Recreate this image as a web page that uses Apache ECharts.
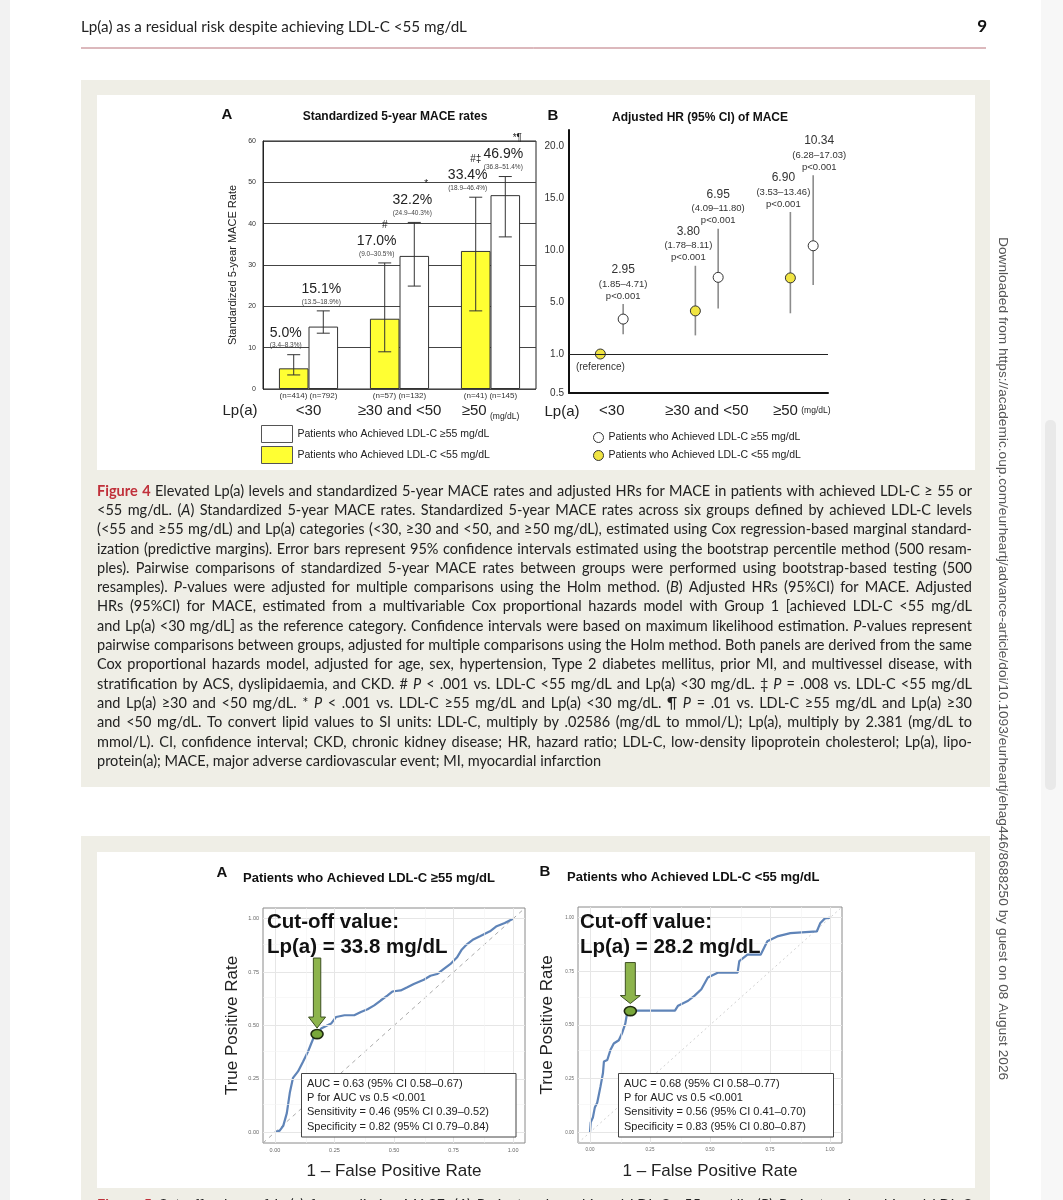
<!DOCTYPE html>
<html><head><meta charset="utf-8">
<script src="https://cdn.jsdelivr.net/npm/echarts@6/dist/echarts.min.js"></script>
<style>html,body{margin:0;padding:0;background:#fff}#c{width:1063px;height:1200px}</style>
</head><body><div id="c"></div>
<script>
// ---------------- Figure 4A data ----------------
const lpCategories = ['<30', '≥30 and <50', '≥50'];
const nLow = [414, 57, 41];
const nHigh = [792, 132, 145];
const maceLow = [5.0, 17.0, 33.4];
const maceLowCI = [[3.4, 8.3], [9.0, 30.5], [18.9, 46.4]];
const maceHigh = [15.1, 32.2, 46.9];
const maceHighCI = [[13.5, 18.9], [24.9, 40.3], [36.8, 51.4]];
const maceLowMarks = ['', '#', '#‡'];
const maceHighMarks = ['', '*', '*¶'];
// ---------------- Figure 4B data ----------------
const hrLow = [1.0, 3.80, 6.90];
const hrLowCI = [null, [1.78, 8.11], [3.53, 13.46]];
const hrHigh = [2.95, 6.95, 10.34];
const hrHighCI = [[1.85, 4.71], [4.09, 11.80], [6.28, 17.03]];
const hrTicks = [0.5, 1.0, 5.0, 10.0, 15.0, 20.0];
// ---------------- Figure 5 data ----------------
const rocA = [[0,0],[0.02,0.008],[0.035,0.03],[0.05,0.09],[0.0625,0.185],[0.076,0.255],[0.097,0.285],[0.118,0.33],[0.139,0.378],[0.153,0.417],[0.167,0.455],[0.18,0.46],[0.194,0.486],[0.215,0.498],[0.236,0.509],[0.257,0.54],[0.292,0.548],[0.333,0.548],[0.361,0.563],[0.389,0.576],[0.417,0.594],[0.444,0.617],[0.472,0.64],[0.493,0.659],[0.528,0.664],[0.556,0.679],[0.583,0.694],[0.625,0.714],[0.653,0.733],[0.681,0.741],[0.708,0.764],[0.736,0.787],[0.764,0.818],[0.785,0.856],[0.806,0.88],[0.833,0.903],[0.861,0.918],[0.903,0.941],[0.931,0.965],[0.965,0.98],[1,1]];
const rocB = [[0,0],[0.003,0.046],[0.012,0.069],[0.02,0.115],[0.03,0.138],[0.037,0.176],[0.044,0.215],[0.054,0.276],[0.058,0.33],[0.072,0.337],[0.085,0.383],[0.099,0.414],[0.12,0.429],[0.133,0.46],[0.147,0.506],[0.154,0.552],[0.168,0.567],[0.354,0.567],[0.367,0.59],[0.409,0.613],[0.436,0.637],[0.464,0.667],[0.491,0.721],[0.532,0.744],[0.615,0.744],[0.622,0.798],[0.656,0.828],[0.711,0.828],[0.725,0.859],[0.739,0.89],[0.78,0.913],[0.835,0.928],[0.945,0.936],[0.959,0.974],[0.979,0.997],[1,1]];
const cutA = [0.177, 0.46];
const cutB = [0.168, 0.565];
const cutLabelA = ['Cut-off value:', 'Lp(a) = 33.8 mg/dL'];
const cutLabelB = ['Cut-off value:', 'Lp(a) = 28.2 mg/dL'];
const statsA = ['AUC = 0.63 (95% CI 0.58–0.67)', 'P for AUC vs 0.5 <0.001', 'Sensitivity = 0.46 (95% CI 0.39–0.52)', 'Specificity = 0.82 (95% CI 0.79–0.84)'];
const statsB = ['AUC = 0.68 (95% CI 0.58–0.77)', 'P for AUC vs 0.5 <0.001', 'Sensitivity = 0.56 (95% CI 0.41–0.70)', 'Specificity = 0.83 (95% CI 0.80–0.87)'];
const rocTicks = [0, 0.25, 0.5, 0.75, 1];
const rocMinor = [0.125, 0.375, 0.625, 0.875];

const nameHigh = 'Patients who Achieved LDL-C ≥55 mg/dL';
const nameLow = 'Patients who Achieved LDL-C <55 mg/dL';

const captionLines = [
 '§Figure §4 Elevated Lp(a) levels and standardized 5-year MACE rates and adjusted HRs for MACE in patients with achieved LDL-C ≥ 55 or',
 '<55 mg/dL. (_A_) Standardized 5-year MACE rates. Standardized 5-year MACE rates across six groups defined by achieved LDL-C levels',
 '(<55 and ≥55 mg/dL) and Lp(a) categories (<30, ≥30 and <50, and ≥50 mg/dL), estimated using Cox regression-based marginal standard-',
 'ization (predictive margins). Error bars represent 95% confidence intervals estimated using the bootstrap percentile method (500 resam-',
 'ples). Pairwise comparisons of standardized 5-year MACE rates between groups were performed using bootstrap-based testing (500',
 'resamples). _P_-values were adjusted for multiple comparisons using the Holm method. (_B_) Adjusted HRs (95%CI) for MACE. Adjusted',
 'HRs (95%CI) for MACE, estimated from a multivariable Cox proportional hazards model with Group 1 [achieved LDL-C <55 mg/dL',
 'and Lp(a) <30 mg/dL] as the reference category. Confidence intervals were based on maximum likelihood estimation. _P_-values represent',
 'pairwise comparisons between groups, adjusted for multiple comparisons using the Holm method. Both panels are derived from the same',
 'Cox proportional hazards model, adjusted for age, sex, hypertension, Type 2 diabetes mellitus, prior MI, and multivessel disease, with',
 'stratification by ACS, dyslipidaemia, and CKD. # _P_ < .001 vs. LDL-C <55 mg/dL and Lp(a) <30 mg/dL. ‡ _P_ = .008 vs. LDL-C <55 mg/dL',
 'and Lp(a) ≥30 and <50 mg/dL. * _P_ < .001 vs. LDL-C ≥55 mg/dL and Lp(a) <30 mg/dL. ¶ _P_ = .01 vs. LDL-C ≥55 mg/dL and Lp(a) ≥30',
 'and <50 mg/dL. To convert lipid values to SI units: LDL-C, multiply by .02586 (mg/dL to mmol/L); Lp(a), multiply by 2.381 (mg/dL to',
 'mmol/L). CI, confidence interval; CKD, chronic kidney disease; HR, hazard ratio; LDL-C, low-density lipoprotein cholesterol; Lp(a), lipo-',
 'protein(a); MACE, major adverse cardiovascular event; MI, myocardial infarction'
];
const headerText = 'Lp(a) as a residual risk despite achieving LDL-C <55 mg/dL';
const pageNumber = '9';
const sideText = 'Downloaded from https://academic.oup.com/eurheartj/advance-article/doi/10.1093/eurheartj/ehag446/8688250 by guest on 08 August 2026';
const nextCaption = '§Figure §5 Cut-off values of Lp(a) for predicting MACE. (_A_) Patients who achieved LDL-C ≥55 mg/dL. (_B_) Patients who achieved LDL-C';

// ---------------- helpers ----------------
const FF = '"Liberation Sans", Arial, sans-serif';
const CF = 'Lato';
const ctx = document.createElement('canvas').getContext('2d');
function fontStr(s, size, fam){ return (s.italic ? 'italic ' : '') + (s.bold ? 'bold ' : '') + size + 'px ' + fam; }
function mw(t, s, size, fam){ ctx.font = fontStr(s, size, fam || CF); return ctx.measureText(t).width; }
function parseWord(w){
  let bold = false, red = false;
  if (w[0] === '§') { w = w.slice(1); bold = true; red = true; }
  return w.split('_').map((p, k) => ({t: p, italic: k % 2 === 1, bold, red})).filter(s => s.t.length);
}
function wordWidth(segs, size){ return segs.reduce((a, s) => a + mw(s.t, s, size), 0); }

// HR axis scale: piecewise logarithmic between the printed ticks
const hrTickPos = hrTicks.map((v, i) => i === 0 ? 0 : 0.75 + (i - 1));
function hrPos(v){
  for (let i = 0; i < hrTicks.length - 1; i++) {
    if (v <= hrTicks[i + 1] || i === hrTicks.length - 2) {
      const t = Math.log(v / hrTicks[i]) / Math.log(hrTicks[i + 1] / hrTicks[i]);
      return hrTickPos[i] + t * (hrTickPos[i + 1] - hrTickPos[i]);
    }
  }
}

// ---------------- graphics: page chrome ----------------
const G = [];
G.push({type:'rect', z:-10, shape:{x:0, y:0, width:10, height:1200}, style:{fill:'#f2f2f2'}});
G.push({type:'rect', z:-10, shape:{x:1041, y:0, width:22, height:1200}, style:{fill:'#f7f7f7'}});
G.push({type:'rect', z:-9, shape:{x:1045, y:420, width:11, height:370, r:5}, style:{fill:'#e9e9e9'}});
G.push({type:'rect', z:-10, shape:{x:81, y:80, width:909, height:707}, style:{fill:'#efeee6'}});
G.push({type:'rect', z:-9, shape:{x:97, y:95, width:878, height:375}, style:{fill:'#ffffff'}});
G.push({type:'rect', z:-10, shape:{x:81, y:836, width:909, height:380}, style:{fill:'#efeee6'}});
G.push({type:'rect', z:-9, shape:{x:97, y:852, width:878, height:336}, style:{fill:'#ffffff'}});
G.push({type:'line', z:-8, shape:{x1:81, y1:48, x2:986, y2:48}, style:{stroke:'#b9737b', lineWidth:1}});
{
  const hs = 15 * 386 / mw(headerText, {}, 15);
  G.push({type:'text', x:81, y:27, style:{text:headerText, font:fontStr({}, hs.toFixed(2), CF), fill:'#222', align:'left', verticalAlign:'middle'}});
  G.push({type:'text', x:987, y:27, style:{text:pageNumber, font:fontStr({bold:true}, 17, CF), fill:'#111', align:'right', verticalAlign:'middle'}});
  const vs = 13 * 843 / mw(sideText, {}, 13, FF);
  G.push({type:'text', x:1003, y:237, rotation:-Math.PI/2, style:{text:sideText, font:fontStr({}, vs.toFixed(2), FF), fill:'#555', align:'left', verticalAlign:'middle'}});
}
// caption (justified)
function addCaptionLine(line, y, size, justify, left, width){
  const words = line.split(' ').map(parseWord);
  const ws = words.map(w => wordWidth(w, size));
  const total = ws.reduce((a, b) => a + b, 0);
  const sp = justify && words.length > 1 ? (width - total) / (words.length - 1) : mw(' ', {}, size);
  let x = left;
  words.forEach((w, i) => {
    let xx = x;
    w.forEach(s => {
      G.push({type:'text', x:xx, y:y, style:{text:s.t, font:fontStr(s, size.toFixed(2), CF), fill: s.red ? '#c0303a' : '#222', align:'left', verticalAlign:'middle'}});
      xx += mw(s.t, s, size);
    });
    x += ws[i] + sp;
  });
}
{
  const base = 15;
  let maxNat = 0;
  captionLines.slice(0, -1).forEach(l => {
    const words = l.split(' ').map(parseWord);
    const nat = words.reduce((a, w) => a + wordWidth(w, base), 0) + (words.length - 1) * mw(' ', {}, base);
    maxNat = Math.max(maxNat, nat);
  });
  const size = base * 872 / maxNat;
  captionLines.forEach((l, i) => addCaptionLine(l, 491 + i * 19.3, size, i < captionLines.length - 1, 97, 875));
  addCaptionLine(nextCaption, 1205, size, true, 97, 875);
}
// panel letters and titles
function T(text, x, y, size, opts){
  opts = opts || {};
  G.push({type:'text', x, y, z: opts.z || 0, style:{text, font:fontStr({bold:opts.bold}, size, FF), fill: opts.fill || '#111', align: opts.align || 'left', verticalAlign:'middle', lineHeight: opts.lh}});
}
T('A', 227, 115, 15, {bold:true, align:'center'});
T('Standardized 5-year MACE rates', 395, 117, 12, {bold:true, align:'center'});
T('B', 553, 116, 15, {bold:true, align:'center'});
T('Adjusted HR (95% CI) of MACE', 700, 118, 12, {bold:true, align:'center'});
T('Lp(a)', 240, 411, 15, {align:'center', fill:'#222'});
T('Lp(a)', 562, 412, 15, {align:'center', fill:'#222'});
T('A', 222, 873, 15, {bold:true, align:'center'});
T(nameHigh, 243, 878, 13, {bold:true});
T('B', 545, 872, 15, {bold:true, align:'center'});
T(nameLow, 567, 877, 13, {bold:true});
// ROC annotations
function rocAnno(lines, lx, stats, bx, bw){
  T(lines[0], lx, 922, 20.5, {bold:true, fill:'#111', z:10});
  T(lines[1], lx, 947, 20.5, {bold:true, fill:'#111', z:10});
  G.push({type:'rect', z:10, shape:{x:bx, y:1073.5, width:bw, height:63.5}, style:{fill:'#fff', stroke:'#444', lineWidth:1}});
  stats.forEach((s, i) => T(s, bx + 5.5, 1084 + i * 14.2, 11, {fill:'#222', z:11}));
}
rocAnno(cutLabelA, 267, statsA, 301.5, 214.5);
rocAnno(cutLabelB, 580, statsB, 618.5, 215);

// ---------------- series helpers ----------------
function maceRender(side, ci, vals, marks){
  return function(params, api){
    const k = params.dataIndex;
    const i = api.value(0);
    const bw = api.size([1, 0])[0];
    const off = side * bw * 0.65 / 4;
    const pH = api.coord([i, api.value(2)]), pL = api.coord([i, api.value(1)]);
    const x = pH[0] + off, yh = pH[1], yl = pL[1], cap = 6.5;
    const ls = {stroke:'#333', lineWidth:1};
    const dx = side < 0 ? -8 : -2;
    const ch = [
      {type:'line', shape:{x1:x, y1:yh, x2:x, y2:yl}, style:ls},
      {type:'line', shape:{x1:x - cap, y1:yh, x2:x + cap, y2:yh}, style:ls},
      {type:'line', shape:{x1:x - cap, y1:yl, x2:x + cap, y2:yl}, style:ls},
      {type:'text', x:x + dx, y:yh - 9, style:{text:'(' + ci[k][0].toFixed(1) + '–' + ci[k][1].toFixed(1) + '%)', font:'6.5px ' + FF, fill:'#444', align:'center', verticalAlign:'middle'}},
      {type:'text', x:x + dx, y:yh - 22, style:{text:vals[k].toFixed(1) + '%', font:'14px ' + FF, fill:'#222', align:'center', verticalAlign:'middle'}}
    ];
    if (marks[k]) ch.push({type:'text', x:x + (side < 0 ? 0 : 12), y:yh - 38, style:{text:marks[k], font:'10px ' + FF, fill:'#222', align:'center', verticalAlign:'middle'}});
    return {type:'group', children:ch};
  };
}
const hrOff = 0.12;
function hrRender(side, vals, ci){
  return function(params, api){
    const k = params.dataIndex;
    const xv = api.value(0);
    const p = api.coord([xv, api.value(1)]);
    const font = '12px ' + FF, sfont = '9.5px ' + FF;
    if (!ci[k]) {
      return {type:'group', children:[{type:'text', x:p[0], y:p[1] + 13, style:{text:'(reference)', font:'10px ' + FF, fill:'#333', align:'center', verticalAlign:'middle'}}]};
    }
    const pl = api.coord([xv, api.value(2)]), ph = api.coord([xv, api.value(3)]);
    const lx = p[0] + (side < 0 ? -7 : (k === 2 ? 6 : 0));
    return {type:'group', children:[
      {type:'line', shape:{x1:p[0], y1:pl[1], x2:p[0], y2:ph[1]}, style:{stroke:'#8c8c8c', lineWidth:1.6}},
      {type:'text', x:lx, y:ph[1] - 8, style:{text:'p<0.001', font:sfont, fill:'#333', align:'center', verticalAlign:'middle'}},
      {type:'text', x:lx, y:ph[1] - 20, style:{text:'(' + ci[k][0].toFixed(2) + '–' + ci[k][1].toFixed(2) + ')', font:sfont, fill:'#333', align:'center', verticalAlign:'middle'}},
      {type:'text', x:lx, y:ph[1] - 34, style:{text:vals[k].toFixed(2), font:font, fill:'#333', align:'center', verticalAlign:'middle'}}
    ]};
  };
}
function hrData(vals, ci, side){
  return vals.map((v, i) => {
    const c = ci[i] || [v, v];
    return [i + 1 + side * hrOff, hrPos(v), hrPos(c[0]), hrPos(c[1])];
  });
}
function arrowRender(tipGap, shaftLen, headH, headW, shaftW){
  return function(params, api){
    const p = api.coord([api.value(0), api.value(1)]);
    const x = p[0], tip = p[1] - tipGap, hb = tip - headH, top = hb - shaftLen;
    return {type:'group', children:[
      {type:'polygon', shape:{points:[[x - shaftW, top], [x + shaftW, top], [x + shaftW, hb], [x + headW, hb], [x, tip], [x - headW, hb], [x - shaftW, hb]]}, style:{fill:'#8db44c', stroke:'#3d4f22', lineWidth:1}},
      {type:'ellipse', shape:{cx:x, cy:p[1], rx:6, ry:4.6}, style:{fill:'#79a83a', stroke:'#1f2a10', lineWidth:1.6}}
    ]};
  };
}
function gridMarks(){
  const d = [];
  rocTicks.forEach(v => { d.push({xAxis:v, lineStyle:{color:'#e6e6e6', width:1, type:'solid'}}); d.push({yAxis:v, lineStyle:{color:'#e6e6e6', width:1, type:'solid'}}); });
  rocMinor.forEach(v => { d.push({xAxis:v, lineStyle:{color:'#f3f3f3', width:0.6, type:'solid'}}); d.push({yAxis:v, lineStyle:{color:'#f3f3f3', width:0.6, type:'solid'}}); });
  return {silent:true, symbol:'none', label:{show:false}, data:d, animation:false};
}
function rocAxes(gi, lblSize, yNameGap){
  return {
    x: {type:'value', gridIndex:gi, min:-0.05, max:1.05, axisLine:{show:false}, splitLine:{show:false},
        axisTick:{show:true, customValues:rocTicks, length:3, lineStyle:{color:'#555'}},
        axisLabel:{customValues:rocTicks, formatter:v => v.toFixed(2), fontSize:lblSize, color:'#666', margin:4, fontFamily:FF},
        name:'1 – False Positive Rate', nameLocation:'middle', nameGap:20, nameTextStyle:{fontSize:17, color:'#222', fontFamily:FF, verticalAlign:'top'}},
    y: {type:'value', gridIndex:gi, min:-0.05, max:1.05, axisLine:{show:false}, splitLine:{show:false},
        axisTick:{show:true, customValues:rocTicks, length:3, lineStyle:{color:'#555'}},
        axisLabel:{customValues:rocTicks, formatter:v => v.toFixed(2), fontSize:lblSize, color:'#666', margin:4, fontFamily:FF},
        name:'True Positive Rate', nameLocation:'middle', nameGap:yNameGap, nameTextStyle:{fontSize:17, color:'#222', fontFamily:FF}}
  };
}
const rA = rocAxes(2, 5.5, 22), rB = rocAxes(3, 4.5, 22);

const option = {
  animation:false,
  backgroundColor:'#ffffff',
  textStyle:{fontFamily:FF},
  graphic:{elements:G},
  legend:[
    {orient:'vertical', left:261, top:425, padding:0, itemWidth:31, itemHeight:17, itemGap:3, icon:'rect', selectedMode:false,
     textStyle:{fontSize:10.5, color:'#222', fontFamily:FF},
     data:[{name:nameHigh, itemStyle:{color:'#fff', borderColor:'#555', borderWidth:1}}, {name:nameLow, itemStyle:{color:'#ffff33', borderColor:'#555', borderWidth:1}}]},
    {orient:'vertical', left:593, top:432, padding:0, itemWidth:10, itemHeight:10, itemGap:7, icon:'circle', selectedMode:false,
     textStyle:{fontSize:10.5, color:'#222', fontFamily:FF},
     data:[{name:nameHigh, itemStyle:{color:'#fff', borderColor:'#333', borderWidth:1}}, {name:nameLow, itemStyle:{color:'#f0e442', borderColor:'#333', borderWidth:1}}]}
  ],
  grid:[
    {left:263, top:141, width:273, height:248, show:true, borderColor:'#222', borderWidth:1, backgroundColor:'#fff'},
    {left:569, top:130, width:259, height:263},
    {left:263, top:908, width:262, height:235, show:true, borderColor:'#8a8a8a', borderWidth:1, backgroundColor:'#fff'},
    {left:578, top:907, width:264, height:236, show:true, borderColor:'#8a8a8a', borderWidth:1, backgroundColor:'#fff'}
  ],
  xAxis:[
    {type:'category', gridIndex:0, data:lpCategories, axisLine:{show:false}, axisTick:{show:false},
     axisLabel:{margin:1, interval:0, formatter:(v, i) => '{n|(n=' + nLow[i] + ') (n=' + nHigh[i] + ')}\n' + (i === 2 ? '{c|' + v + '} {u|(mg/dL)}' : '{c|' + v + '}'),
       rich:{n:{fontSize:8, color:'#333', lineHeight:11, fontFamily:FF}, c:{fontSize:15, color:'#222', lineHeight:20, fontFamily:FF}, u:{fontSize:8.5, color:'#222', lineHeight:20, fontFamily:FF, verticalAlign:'bottom'}}}},
    {type:'value', gridIndex:1, min:0.55, max:3.276, splitLine:{show:false}, axisTick:{show:false},
     axisLine:{show:true, lineStyle:{color:'#111', width:2}},
     axisLabel:{customValues:[1, 2, 3], margin:10, formatter:v => { const i = Math.round(v) - 1; return i === 2 ? '{c|' + lpCategories[i] + '} {u|(mg/dL)}' : '{c|' + lpCategories[i] + '}'; },
       rich:{c:{fontSize:15, color:'#222', fontFamily:FF}, u:{fontSize:8.5, color:'#222', fontFamily:FF}}}},
    rA.x, rB.x
  ],
  yAxis:[
    {type:'value', gridIndex:0, min:0, max:60, interval:10, axisLine:{show:true, lineStyle:{color:'#222'}}, axisTick:{show:false},
     splitLine:{show:true, lineStyle:{color:'#444', width:1}},
     axisLabel:{fontSize:7, color:'#333', margin:7, fontFamily:FF},
     name:'Standardized 5-year MACE Rate', nameLocation:'middle', nameGap:25, nameTextStyle:{fontSize:11, color:'#222', fontFamily:FF}},
    {type:'value', gridIndex:1, min:0, max:5.06, splitLine:{show:false}, axisTick:{show:false},
     axisLine:{show:true, lineStyle:{color:'#111', width:2}},
     axisLabel:{customValues:hrTickPos, margin:5, fontSize:10, color:'#333', fontFamily:FF,
       formatter:v => { let b = 0; hrTickPos.forEach((p, i) => { if (Math.abs(p - v) < Math.abs(hrTickPos[b] - v)) b = i; }); return hrTicks[b].toFixed(1); }}},
    rA.y, rB.y
  ],
  series:[
    // Figure 4A
    {name:nameLow, type:'bar', xAxisIndex:0, yAxisIndex:0, data:maceLow, barGap:'0%', barCategoryGap:'35%',
     itemStyle:{color:'#ffff33', borderColor:'#333', borderWidth:1}, z:2},
    {name:nameHigh, type:'bar', xAxisIndex:0, yAxisIndex:0, data:maceHigh, barGap:'0%', barCategoryGap:'35%',
     itemStyle:{color:'#ffffff', borderColor:'#333', borderWidth:1}, z:2},
    {type:'custom', xAxisIndex:0, yAxisIndex:0, data:maceLowCI.map((c, i) => [i, c[0], c[1]]), encode:{x:0, y:[1, 2]}, renderItem:maceRender(-1, maceLowCI, maceLow, maceLowMarks), z:3, silent:true},
    {type:'custom', xAxisIndex:0, yAxisIndex:0, data:maceHighCI.map((c, i) => [i, c[0], c[1]]), encode:{x:0, y:[1, 2]}, renderItem:maceRender(1, maceHighCI, maceHigh, maceHighMarks), z:3, silent:true},
    // Figure 4B
    {type:'custom', xAxisIndex:1, yAxisIndex:1, data:hrData(hrLow, hrLowCI, -1), encode:{x:0, y:[1, 2, 3]}, renderItem:hrRender(-1, hrLow, hrLowCI), z:3, silent:true,
     markLine:{silent:true, symbol:'none', label:{show:false}, lineStyle:{color:'#222', width:1.2, type:'solid'}, data:[{yAxis:hrPos(1.0)}]}},
    {type:'custom', xAxisIndex:1, yAxisIndex:1, data:hrData(hrHigh, hrHighCI, 1), encode:{x:0, y:[1, 2, 3]}, renderItem:hrRender(1, hrHigh, hrHighCI), z:3, silent:true},
    {name:nameLow, type:'scatter', xAxisIndex:1, yAxisIndex:1, data:hrData(hrLow, hrLowCI, -1).map(d => [d[0], d[1]]), symbol:'circle', symbolSize:10,
     itemStyle:{color:'#f0e442', borderColor:'#333', borderWidth:1, opacity:1}, z:4},
    {name:nameHigh, type:'scatter', xAxisIndex:1, yAxisIndex:1, data:hrData(hrHigh, hrHighCI, 1).map(d => [d[0], d[1]]), symbol:'circle', symbolSize:10,
     itemStyle:{color:'#ffffff', borderColor:'#333', borderWidth:1, opacity:1}, z:4},
    // Figure 5A
    {type:'line', xAxisIndex:2, yAxisIndex:2, data:[[-0.05, -0.05], [1.05, 1.05]], showSymbol:false, z:1, silent:true,
     lineStyle:{color:'#aaaaaa', width:1, type:[4, 4]}, markLine:gridMarks()},
    {type:'line', xAxisIndex:2, yAxisIndex:2, data:rocA, showSymbol:false, z:3, silent:true, lineStyle:{color:'#5f84b8', width:2.2}},
    {type:'custom', xAxisIndex:2, yAxisIndex:2, data:[cutA], renderItem:arrowRender(6, 59, 11, 8.5, 3.7), z:5, silent:true},
    // Figure 5B
    {type:'line', xAxisIndex:3, yAxisIndex:3, data:[[-0.05, -0.05], [1.05, 1.05]], showSymbol:false, z:1, silent:true,
     lineStyle:{color:'#d0d0d0', width:1, type:[2, 3]}, markLine:gridMarks()},
    {type:'line', xAxisIndex:3, yAxisIndex:3, data:rocB, showSymbol:false, z:3, silent:true, lineStyle:{color:'#5f84b8', width:2.2}},
    {type:'custom', xAxisIndex:3, yAxisIndex:3, data:[cutB], renderItem:arrowRender(7.5, 33, 8, 10, 5), z:5, silent:true}
  ]
};
const chart = echarts.init(document.getElementById('c'), null, {renderer:'canvas', width:1063, height:1200});
chart.setOption(option);
</script>
</body></html>
